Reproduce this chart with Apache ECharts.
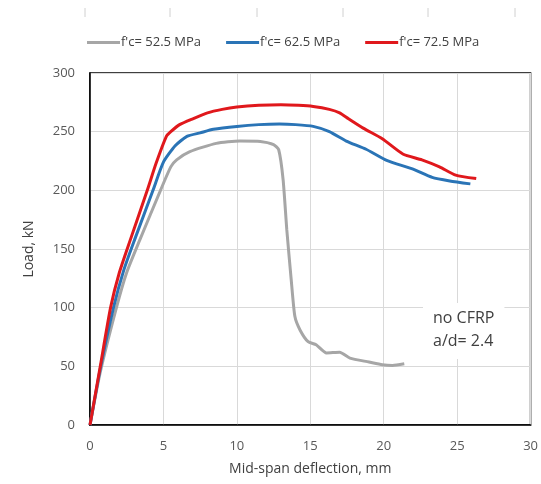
<!DOCTYPE html>
<html>
<head>
<meta charset="utf-8">
<script src="https://cdn.jsdelivr.net/npm/echarts@6/dist/echarts.min.js"></script>
<style>
  html, body { margin: 0; padding: 0; background: #fff; }
  #chart { width: 541px; height: 484px; }
</style>
</head>
<body>
<div id="chart"></div>
<script>
// series names
const seriesNames = ["f'c= 52.5 MPa", "f'c= 62.5 MPa", "f'c= 72.5 MPa"]

// [deflection mm, load kN]
const fc525 = [
  [0, 0], [0.7, 45], [1.8, 100], [2.5, 130], [3.4, 158], [4.8, 200], [5.5, 220], [5.9, 226],
  [6.8, 233], [8.6, 240], [10.2, 242], [11.6, 241.7], [12.5, 239], [12.85, 234.6],
  [13.15, 209], [13.4, 166.5], [13.7, 124], [13.95, 92.6], [14.3, 81], [14.85, 71],
  [15.4, 68.4], [16.1, 61.4], [17, 62], [17.7, 57], [19, 53.7], [19.9, 51.4], [20.6, 50.8], [21.4, 52.2]
]
const fc625 = [
  [0, 0], [0.7, 48], [1.6, 100], [2.3, 132], [3.04, 158], [4.29, 200], [5, 224], [5.8, 238],
  [6.6, 246], [7.5, 249], [8.4, 252], [10, 254.5], [11.5, 256], [12.9, 256.5], [14, 256],
  [15.2, 254.5], [16.3, 250], [17.45, 242], [18.8, 235], [20.2, 225.5], [22, 218],
  [23.3, 211], [24.5, 208], [25.9, 205.5]
]
const fc725 = [
  [0, 0], [0.7, 50], [1.4, 100], [2.0, 130], [2.75, 158], [3.9, 200], [4.5, 223], [5.2, 246],
  [5.5, 250], [6.1, 256], [7, 261], [8, 266], [9, 269], [10, 271], [11.5, 272.5], [13, 273],
  [14.2, 272.5], [15.2, 271.5], [16.3, 269], [17, 266], [17.6, 261], [18.6, 253], [19.9, 244],
  [21.3, 231], [22.6, 226], [23.8, 220], [24.9, 213], [26.3, 210]
]

const colors = ['#a6a6a6', '#2a74b6', '#e0181c']
const allData = [fc525, fc625, fc725]

const chart = echarts.init(document.getElementById('chart'))

// faint tick marks along the top edge (left over from the source image)
const topTicks = [85, 170, 257, 343, 428, 515].map(x => ({
  type: 'line',
  shape: { x1: x, y1: 8, x2: x, y2: 17 },
  style: { stroke: '#d0d0d0', lineWidth: 1 }
}))

const option = {
  animation: false,
  color: colors,
  legend: {
    top: 31,
    left: 82,
    itemWidth: 33,
    itemHeight: 3,
    itemGap: 25,
    icon: 'rect',
    textStyle: { color: '#404040', fontSize: 13, fontFamily: 'Open Sans', padding: [0, 0, 0, -4] },
    data: seriesNames
  },
  grid: {
    left: 90, right: 9, top: 73, bottom: 59,
    show: true,
    borderColor: '#000',
    borderWidth: 1.5
  },
  xAxis: {
    type: 'value',
    min: 0, max: 30, interval: 5,
    name: 'Mid-span deflection, mm',
    nameLocation: 'middle',
    nameGap: 37,
    nameTextStyle: { color: '#404040', fontSize: 14, fontFamily: 'Open Sans' },
    axisLine: { show: true, lineStyle: { color: '#000', width: 1.5 } },
    axisTick: { show: false },
    axisLabel: { color: '#595959', fontSize: 13, margin: 15, fontFamily: 'Open Sans' },
    splitLine: { show: true, lineStyle: { color: '#d9d9d9', width: 1 } }
  },
  yAxis: {
    type: 'value',
    min: 0, max: 300, interval: 50,
    name: 'Load, kN',
    nameLocation: 'middle',
    nameGap: 54,
    nameTextStyle: { color: '#404040', fontSize: 14, fontFamily: 'Open Sans' },
    axisLine: { show: true, lineStyle: { color: '#000', width: 1.5 } },
    axisTick: { show: false },
    axisLabel: { color: '#595959', fontSize: 13, margin: 15, fontFamily: 'Open Sans' },
    splitLine: { show: true, lineStyle: { color: '#d9d9d9', width: 1 } }
  },
  series: seriesNames.map((name, i) => ({
    name: name,
    type: 'line',
    data: allData[i],
    showSymbol: false,
    smooth: 0.2,
    lineStyle: { width: 3, color: colors[i] },
    z: 3 + i
  })),
  graphic: topTicks.concat([
    {
      type: 'text',
      left: 423,
      top: 303,
      z: 10,
      style: {
        text: 'no CFRP\na/d= 2.4',
        fill: '#404040',
        font: '16px "Open Sans"',
        lineHeight: 23,
        backgroundColor: '#fff',
        padding: [4, 10, 6, 10]
      }
    }
  ])
}

chart.setOption(option)
</script>
</body>
</html>
